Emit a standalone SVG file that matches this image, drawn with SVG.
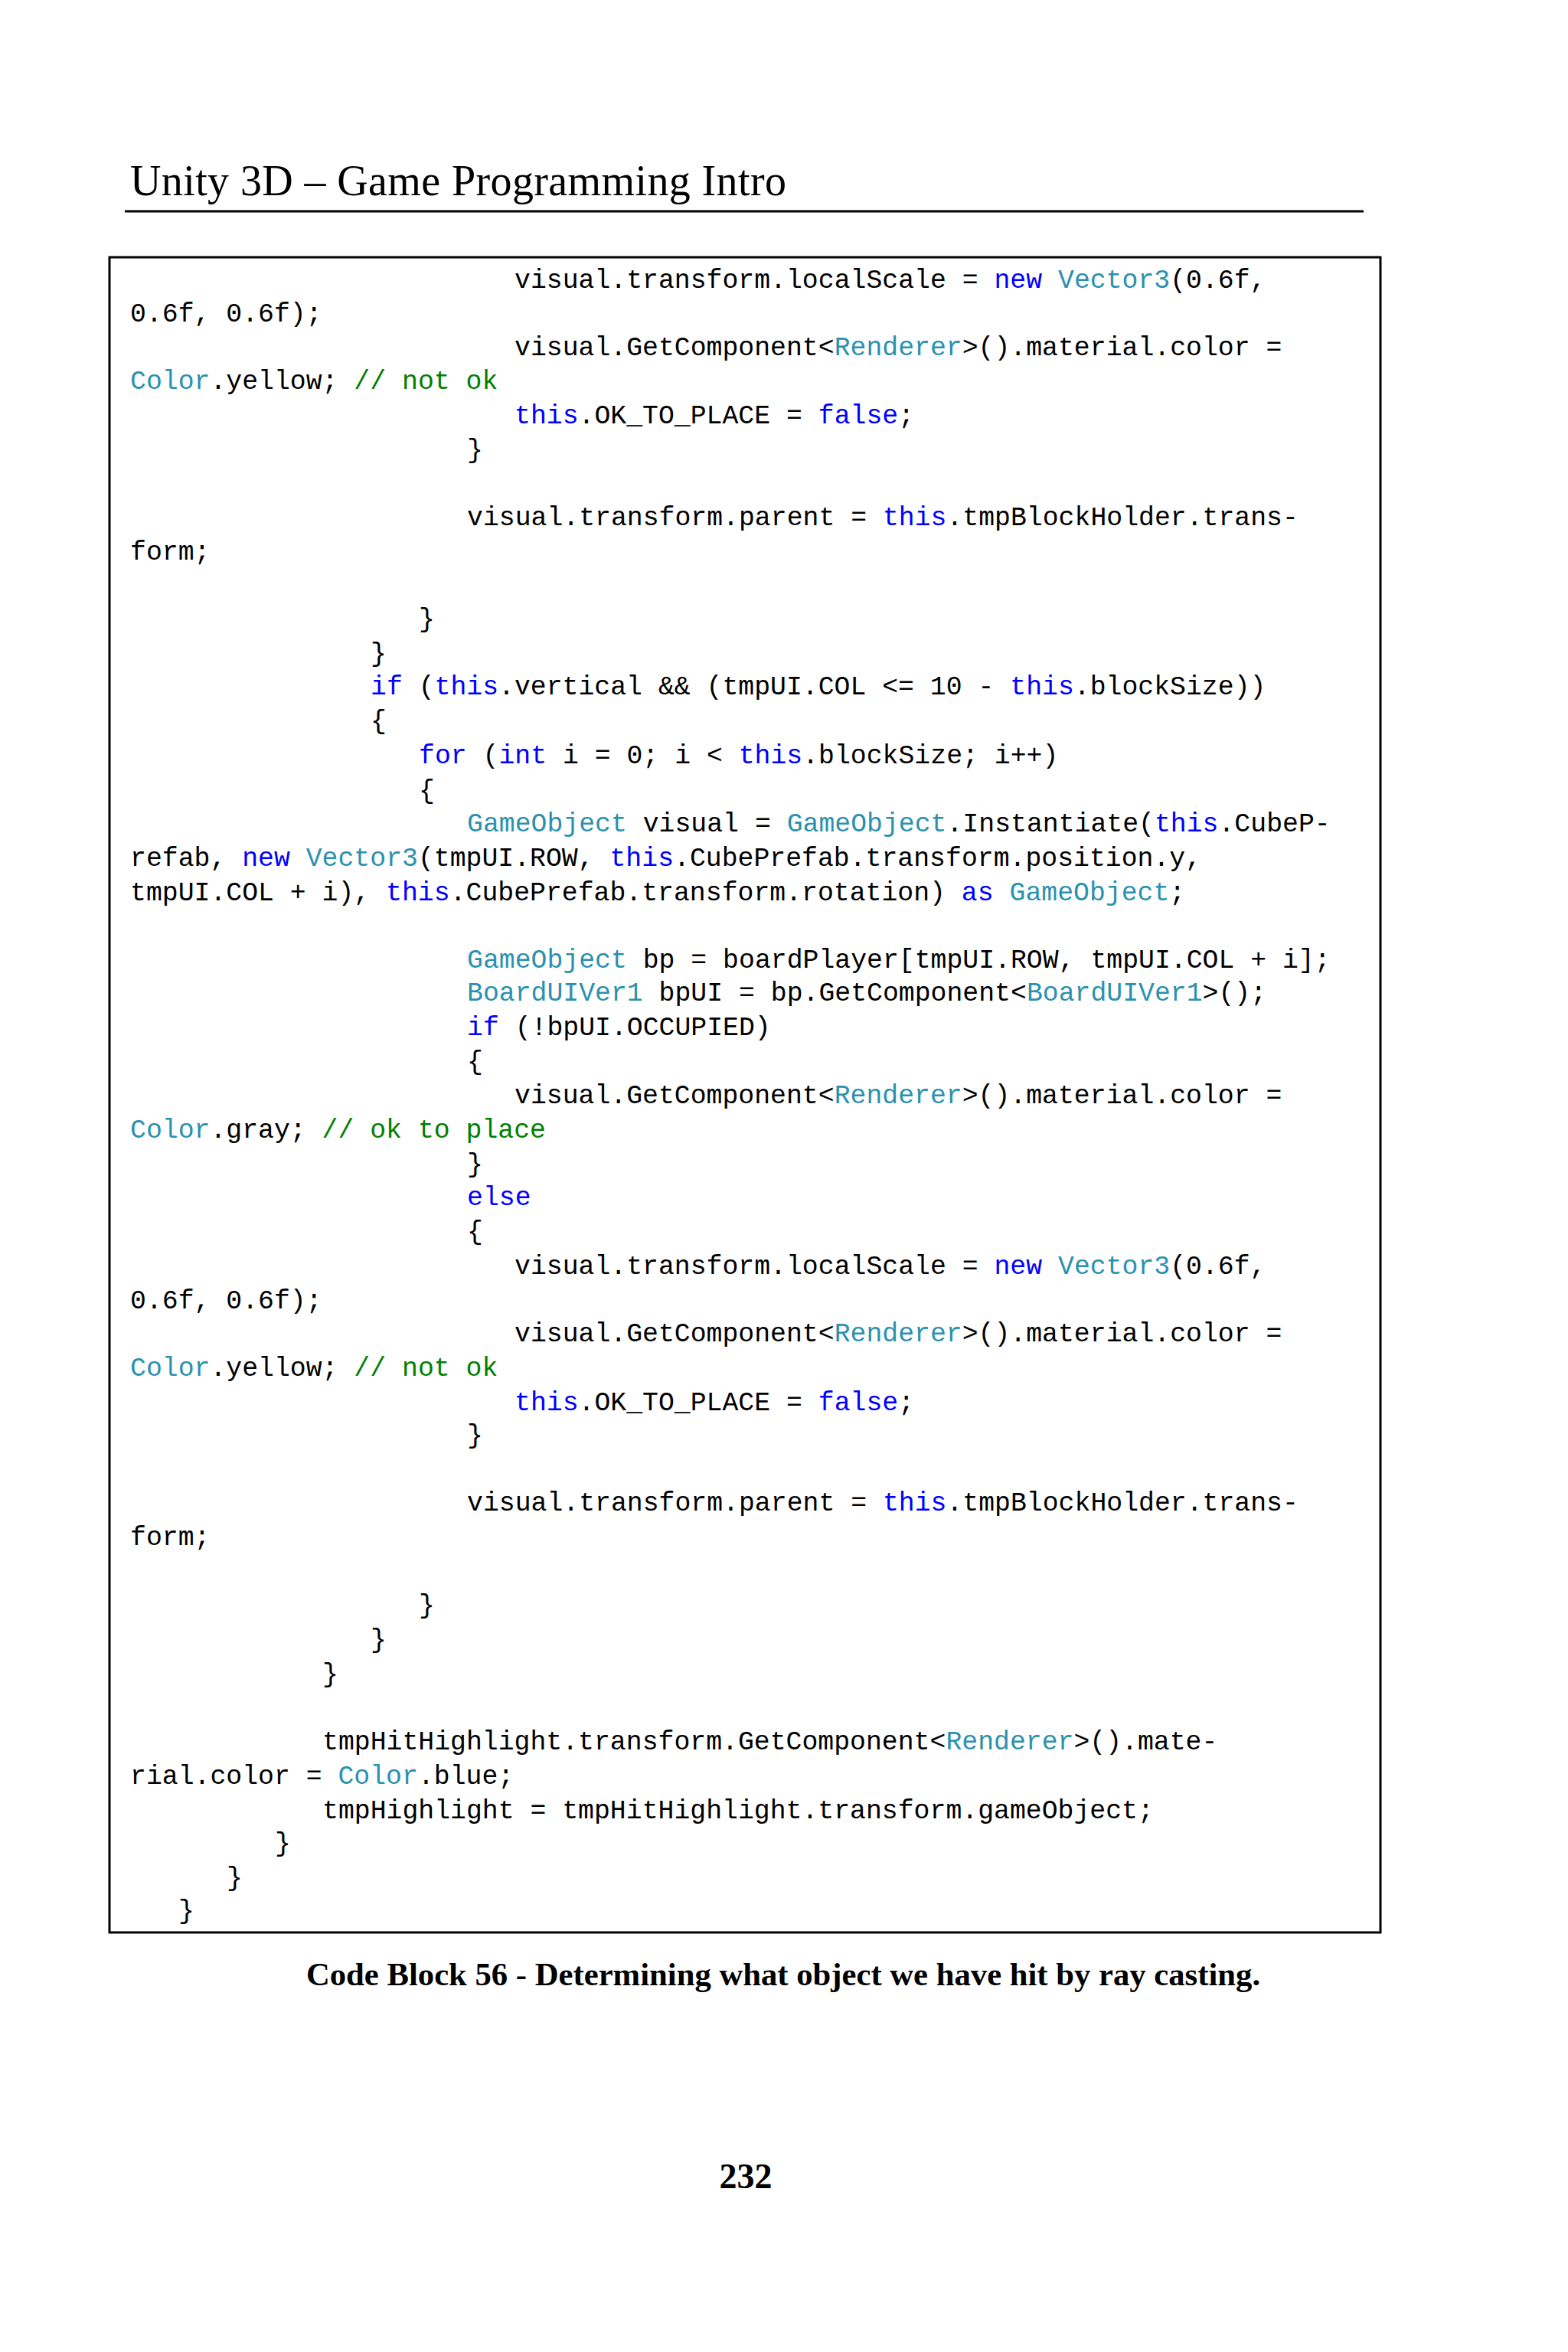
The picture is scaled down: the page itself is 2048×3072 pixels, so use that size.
<svg xmlns="http://www.w3.org/2000/svg" width="2048" height="3072" viewBox="0 0 2048 3072">
<style>
.c{font-family:"Liberation Mono",monospace;font-size:34.8px;fill:#000;white-space:pre}
.k{fill:#0000ff}.t{fill:#2b91af}.g{fill:#008000}
.h{font-family:"Liberation Serif",serif;font-size:56px}
.b{font-family:"Liberation Serif",serif;font-size:42.7px;font-weight:bold}
</style>
<rect width="2048" height="3072" fill="#fff"/>
<g id="header">
<text class="h" x="170" y="255" textLength="857">Unity 3D – Game Programming Intro</text>
<line x1="163" y1="276" x2="1781" y2="276" stroke="#000" stroke-width="3"/>
</g>
<g id="codebox">
<rect x="143" y="336" width="1660" height="2188" fill="none" stroke="#000" stroke-width="3"/>
<text class="c" x="672" y="376">visual.transform.localScale = <tspan class="k">new</tspan> <tspan class="t">Vector3</tspan>(0.6f,</text>
<text class="c" x="170" y="420">0.6f, 0.6f);</text>
<text class="c" x="672" y="464">visual.GetComponent&lt;<tspan class="t">Renderer</tspan>&gt;().material.color =</text>
<text class="c" x="170" y="508"><tspan class="t">Color</tspan>.yellow; <tspan class="g">// not ok</tspan></text>
<text class="c" x="672" y="553"><tspan class="k">this</tspan>.OK_TO_PLACE = <tspan class="k">false</tspan>;</text>
<text class="c" x="610" y="598">}</text>
<text class="c" x="610" y="686">visual.transform.parent = <tspan class="k">this</tspan>.tmpBlockHolder.trans-</text>
<text class="c" x="170" y="731">form;</text>
<text class="c" x="547" y="819">}</text>
<text class="c" x="484" y="864">}</text>
<text class="c" x="484" y="907"><tspan class="k">if</tspan> (<tspan class="k">this</tspan>.vertical &amp;&amp; (tmpUI.COL &lt;= 10 - <tspan class="k">this</tspan>.blockSize))</text>
<text class="c" x="484" y="952">{</text>
<text class="c" x="547" y="997"><tspan class="k">for</tspan> (<tspan class="k">int</tspan> i = 0; i &lt; <tspan class="k">this</tspan>.blockSize; i++)</text>
<text class="c" x="547" y="1043">{</text>
<text class="c" x="610" y="1086"><tspan class="t">GameObject</tspan> visual = <tspan class="t">GameObject</tspan>.Instantiate(<tspan class="k">this</tspan>.CubeP-</text>
<text class="c" x="170" y="1131">refab, <tspan class="k">new</tspan> <tspan class="t">Vector3</tspan>(tmpUI.ROW, <tspan class="k">this</tspan>.CubePrefab.transform.position.y,</text>
<text class="c" x="170" y="1176">tmpUI.COL + i), <tspan class="k">this</tspan>.CubePrefab.transform.rotation) <tspan class="k">as</tspan> <tspan class="t">GameObject</tspan>;</text>
<text class="c" x="610" y="1264"><tspan class="t">GameObject</tspan> bp = boardPlayer[tmpUI.ROW, tmpUI.COL + i];</text>
<text class="c" x="610" y="1307"><tspan class="t">BoardUIVer1</tspan> bpUI = bp.GetComponent&lt;<tspan class="t">BoardUIVer1</tspan>&gt;();</text>
<text class="c" x="610" y="1352"><tspan class="k">if</tspan> (!bpUI.OCCUPIED)</text>
<text class="c" x="610" y="1397">{</text>
<text class="c" x="672" y="1441">visual.GetComponent&lt;<tspan class="t">Renderer</tspan>&gt;().material.color =</text>
<text class="c" x="170" y="1486"><tspan class="t">Color</tspan>.gray; <tspan class="g">// ok to place</tspan></text>
<text class="c" x="610" y="1531">}</text>
<text class="c" x="610" y="1574"><tspan class="k">else</tspan></text>
<text class="c" x="610" y="1619">{</text>
<text class="c" x="672" y="1664">visual.transform.localScale = <tspan class="k">new</tspan> <tspan class="t">Vector3</tspan>(0.6f,</text>
<text class="c" x="170" y="1709">0.6f, 0.6f);</text>
<text class="c" x="672" y="1752">visual.GetComponent&lt;<tspan class="t">Renderer</tspan>&gt;().material.color =</text>
<text class="c" x="170" y="1797"><tspan class="t">Color</tspan>.yellow; <tspan class="g">// not ok</tspan></text>
<text class="c" x="672" y="1842"><tspan class="k">this</tspan>.OK_TO_PLACE = <tspan class="k">false</tspan>;</text>
<text class="c" x="610" y="1885">}</text>
<text class="c" x="610" y="1973">visual.transform.parent = <tspan class="k">this</tspan>.tmpBlockHolder.trans-</text>
<text class="c" x="170" y="2018">form;</text>
<text class="c" x="547" y="2107">}</text>
<text class="c" x="484" y="2152">}</text>
<text class="c" x="421" y="2197">}</text>
<text class="c" x="421" y="2285">tmpHitHighlight.transform.GetComponent&lt;<tspan class="t">Renderer</tspan>&gt;().mate-</text>
<text class="c" x="170" y="2330">rial.color = <tspan class="t">Color</tspan>.blue;</text>
<text class="c" x="421" y="2375">tmpHighlight = tmpHitHighlight.transform.gameObject;</text>
<text class="c" x="359" y="2418">}</text>
<text class="c" x="296" y="2463">}</text>
<text class="c" x="233" y="2506">}</text>
</g>
<g id="caption">
<text class="b" x="1023" y="2593" text-anchor="middle">Code Block 56 - Determining what object we have hit by ray casting.</text>
</g>
<g id="page">
<text class="b" x="974" y="2858" text-anchor="middle" style="font-size:46px">232</text>
</g>
</svg>
